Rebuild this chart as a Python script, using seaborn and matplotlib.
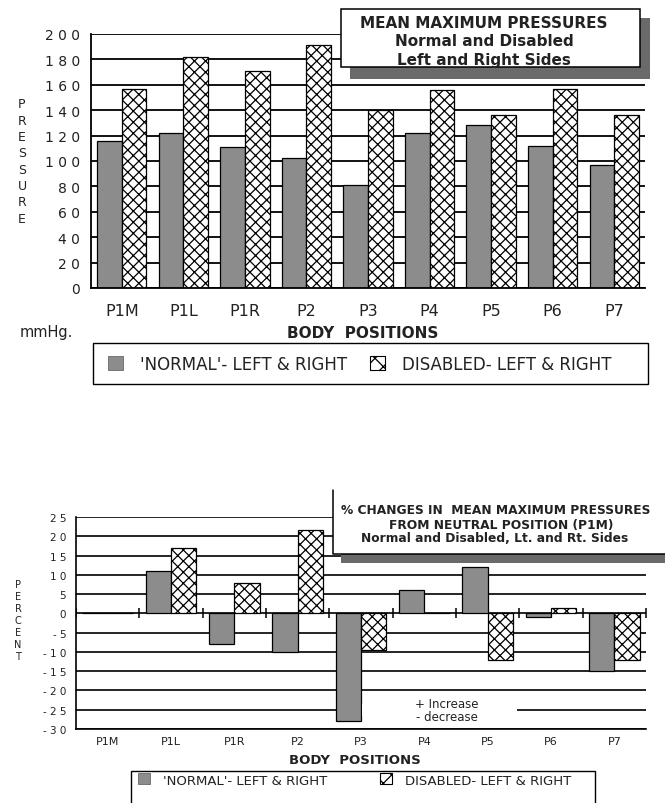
import matplotlib
matplotlib.use("Agg")
import matplotlib.pyplot as plt
import seaborn as sns
import pandas as pd
import numpy as np
from matplotlib.patches import Rectangle, Patch
from matplotlib.lines import Line2D

# ---- data ----
positions = ["P1M", "P1L", "P1R", "P2", "P3", "P4", "P5", "P6", "P7"]
normal_pressure = [116, 122, 111, 102, 81, 122, 128, 112, 97]
disabled_pressure = [157, 182, 171, 191, 140, 156, 136, 157, 136]
normal_change = [0, 11, -8, -10, -28, 6, 12, -1, -15]
disabled_change = [0, 17, 8, 21.5, -9.5, 0, -12, 1.5, -12]
group_names = ["'NORMAL'- LEFT & RIGHT", "DISABLED- LEFT & RIGHT"]
pressure_ticks = list(range(0, 201, 20))
percent_ticks = list(range(-30, 26, 5))

GRAY = "#8c8c8c"
SHADOW = "#6a6a6a"
INK = "#222222"

sns.set_style("white")
plt.rcParams["font.family"] = ["DejaVu Sans"]
plt.rcParams["hatch.linewidth"] = 0.9

W, H = 665, 804
fig = plt.figure(figsize=(W / 100, H / 100), dpi=100)


def fx(px):
    return px / W


def fy(py):
    return 1 - py / H


def spaced(v):
    # typewriter-style spaced digits used on the value axes
    return " ".join(str(v))


def long_frame(a, b):
    return pd.DataFrame({
        "position": positions * 2,
        "group": [group_names[0]] * len(a) + [group_names[1]] * len(b),
        "value": list(a) + list(b),
    })


def style_bars(ax):
    for patch in ax.containers[1]:
        patch.set_hatch("xxx")
        patch.set_facecolor("white")
        patch.set_edgecolor("black")


def framed_legend(x0, y0, x1, y1, text_left, text_y, fontsize, colspace, handles):
    fig.patches.append(Rectangle((fx(x0), fy(y1)), fx(x1) - fx(x0), (y1 - y0) / H,
                                 transform=fig.transFigure, facecolor="white",
                                 edgecolor="black", linewidth=1.0, zorder=4))
    leg = fig.legend(handles, group_names, loc="center left", ncol=2, frameon=False,
                     fontsize=fontsize, handlelength=0.9, handleheight=0.9,
                     columnspacing=colspace, borderpad=0, borderaxespad=0,
                     handletextpad=1.0, bbox_to_anchor=(fx(text_left), fy(text_y)))
    leg.set_zorder(6)
    for t in leg.get_texts():
        t.set_color(INK)
    return leg


handles = [Patch(facecolor=GRAY, edgecolor="#555555", linewidth=0.5),
           Patch(facecolor="white", edgecolor="black", hatch="xx", linewidth=0.8)]

# ---------------- top chart: mean maximum pressures ----------------
ax1 = fig.add_axes([fx(91), fy(289), fx(645) - fx(91), (289 - 35) / H])
sns.barplot(data=long_frame(normal_pressure, disabled_pressure), x="position", y="value",
            hue="group", hue_order=group_names, palette=[GRAY, "white"], saturation=1,
            edgecolor="black", linewidth=0.9, width=0.8, legend=False, ax=ax1)
style_bars(ax1)
ax1.set_xlim(-0.5, len(positions) - 0.5)
ax1.set_ylim(0, 200)
ax1.set_yticks(pressure_ticks)
ax1.set_yticklabels([spaced(t) for t in pressure_ticks])
ax1.yaxis.grid(True, color="black", linewidth=1.3)
ax1.set_axisbelow(True)
for s in ["top", "right"]:
    ax1.spines[s].set_visible(False)
for s in ["left", "bottom"]:
    ax1.spines[s].set_color("black")
    ax1.spines[s].set_linewidth(1.3)
ax1.set_xticks(range(len(positions)))
ax1.set_xticklabels(positions)
ax1.set_xticks(np.arange(-0.5, len(positions)), minor=True)
ax1.tick_params(axis="x", which="major", length=0, pad=10.5, labelsize=11.5, colors=INK)
ax1.tick_params(axis="x", which="minor", length=6, direction="inout", width=1, color="black")
ax1.tick_params(axis="y", length=5, width=1.2, color="black", direction="out", pad=3,
                labelsize=10, labelcolor=INK)
ax1.set_xlabel("")
ax1.set_ylabel("")

fig.text(fx(22), fy(162), "\n".join("PRESSURE"), ha="center", va="center",
         fontsize=9, linespacing=1.33, color=INK)
fig.text(fx(20), fy(333), "mmHg.", ha="left", va="center", fontsize=10.5, color=INK)
fig.text(fx(363), fy(333), "BODY  POSITIONS", ha="center", va="center",
         fontsize=11, fontweight="bold", color=INK)

# title box with drop shadow
fig.patches.append(Rectangle((fx(350), fy(80)), fx(650) - fx(350), (80 - 19) / H,
                             transform=fig.transFigure, facecolor=SHADOW, edgecolor="none", zorder=5))
fig.patches.append(Rectangle((fx(341), fy(68)), fx(640) - fx(341), (68 - 10) / H,
                             transform=fig.transFigure, facecolor="white", edgecolor="black",
                             linewidth=1.1, zorder=6))
for yy, line in [(23, "MEAN MAXIMUM PRESSURES"), (42, "Normal and Disabled"),
                 (60, "Left and Right Sides")]:
    fig.text(fx(484), fy(yy), line, ha="center", va="center",
             fontsize=11, fontweight="bold", zorder=7, color=INK)

framed_legend(93, 344, 648, 385, 108, 365, 12, 1.4, handles)

# ---------------- bottom chart: percent change from P1M ----------------
ax2 = fig.add_axes([fx(76), fy(730), fx(646) - fx(76), (730 - 518) / H])
sns.barplot(data=long_frame(normal_change, disabled_change), x="position", y="value",
            hue="group", hue_order=group_names, palette=[GRAY, "white"], saturation=1,
            edgecolor="black", linewidth=0.9, width=0.8, legend=False, ax=ax2)
style_bars(ax2)
ax2.set_xlim(-0.5, len(positions) - 0.5)
ax2.set_ylim(-30, 25)
ax2.set_yticks(percent_ticks)
ax2.set_yticklabels([spaced(t) for t in percent_ticks])
ax2.yaxis.grid(True, color="black", linewidth=1.2)
ax2.set_axisbelow(True)
for s in ["top", "right"]:
    ax2.spines[s].set_visible(False)
for s in ["left", "bottom"]:
    ax2.spines[s].set_color("black")
    ax2.spines[s].set_linewidth(1.2)
ax2.set_xticks(range(len(positions)))
ax2.set_xticklabels(positions)
ax2.tick_params(axis="x", length=0, pad=5, labelsize=8, colors=INK)
ax2.tick_params(axis="y", length=4, width=1.1, color="black", direction="out", pad=3,
                labelsize=7.5, labelcolor=INK)
ax2.plot(np.arange(-0.5, len(positions)), np.zeros(len(positions) + 1), ls="none",
         marker="|", markersize=7, markeredgewidth=1.1, color="black", zorder=1)
ax2.set_xlabel("")
ax2.set_ylabel("")

# note sitting on the -25 gridline, which is broken around it
ax2.add_patch(Rectangle((4.02, -26.6), 2.45, 3.2, facecolor="white", edgecolor="none", zorder=1))
ax2.text(5.35, -25, "+ Increase\n- decrease", ha="center", va="center",
         fontsize=8.5, linespacing=1.0, color=INK, zorder=3)

fig.text(fx(18), fy(621), "\n".join("PERCENT"), ha="center", va="center",
         fontsize=7, linespacing=1.25, color=INK)
fig.text(fx(355), fy(761), "BODY  POSITIONS", ha="center", va="center",
         fontsize=9.5, fontweight="bold", color=INK)

# title panel with shadow, open on top and right
fig.patches.append(Rectangle((fx(341), fy(564)), fx(670) - fx(341), (564 - 555) / H,
                             transform=fig.transFigure, facecolor=SHADOW, edgecolor="none", zorder=5))
fig.patches.append(Rectangle((fx(333), fy(555)), fx(670) - fx(333), (555 - 491) / H,
                             transform=fig.transFigure, facecolor="white", edgecolor="none", zorder=6))
fig.lines.append(Line2D([fx(333), fx(333), fx(670)], [fy(491), fy(555), fy(555)],
                        transform=fig.transFigure, color="black", linewidth=1.1, zorder=7))
for xx, yy, line in [(496, 511, "% CHANGES IN  MEAN MAXIMUM PRESSURES"),
                     (501, 525, "FROM NEUTRAL POSITION (P1M)"),
                     (495, 538, "Normal and Disabled, Lt. and Rt. Sides")]:
    fig.text(fx(xx), fy(yy), line, ha="center", va="center",
             fontsize=8.8, fontweight="bold", zorder=8, color=INK)

framed_legend(131, 772, 595, 820, 138, 781, 9.5, 4.0, handles)

fig.savefig("out.png", dpi=100, facecolor="white")
